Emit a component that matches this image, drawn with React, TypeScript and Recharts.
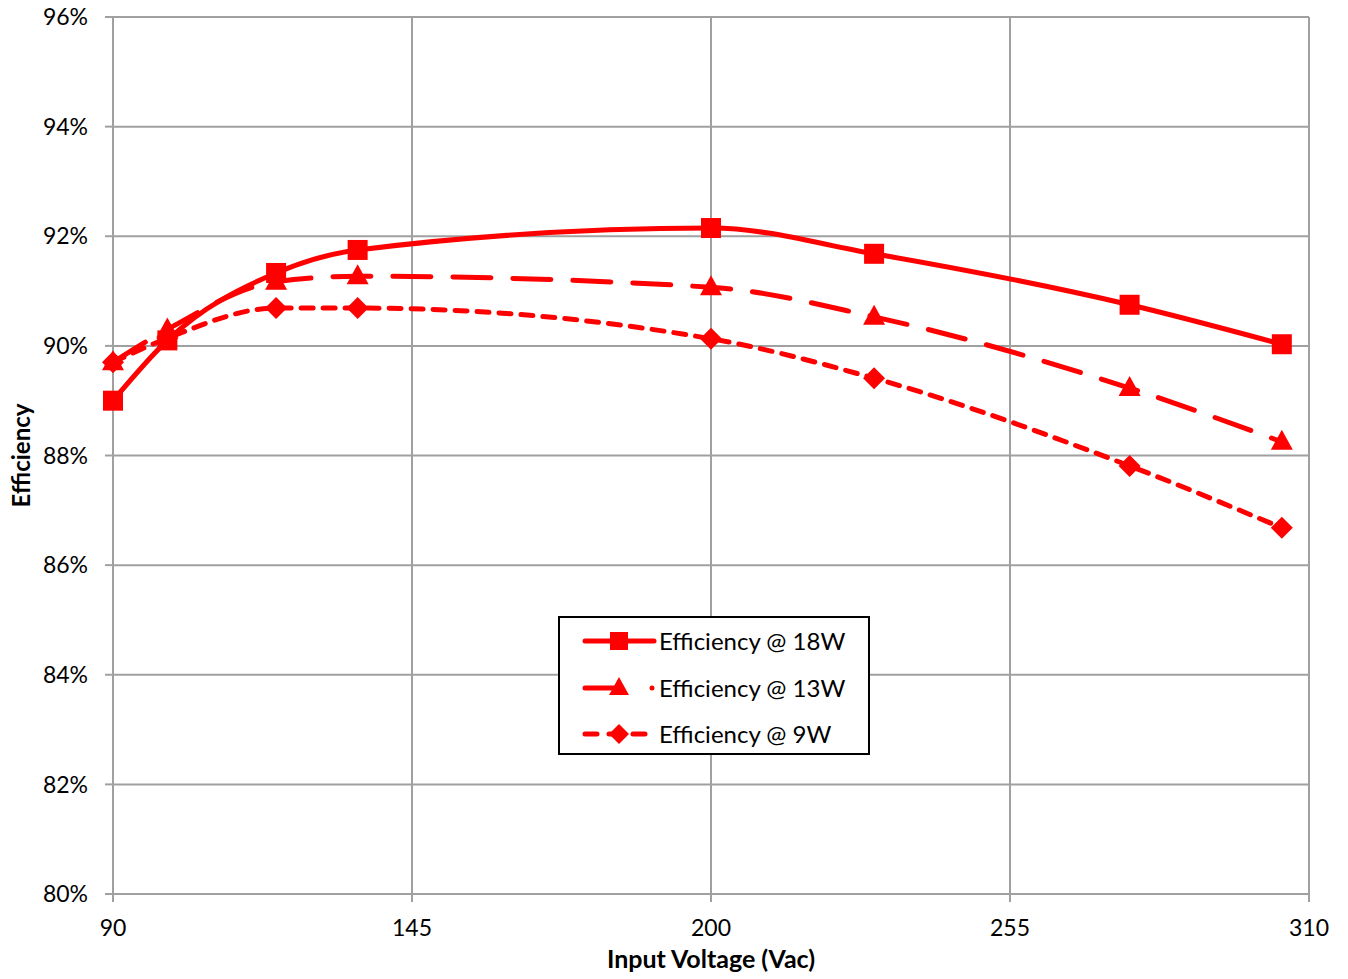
import React from "react";
import {
  CartesianGrid,
  Line,
  LineChart,
  XAxis,
  YAxis
} from "recharts";

const voltages = [90, 100, 120, 135, 200, 230, 277, 305];
const eff18W = [89.0, 90.1, 91.33, 91.75, 92.15, 91.68, 90.75, 90.03];
const eff13W = [89.7, 90.3, 91.17, 91.27, 91.07, 90.53, 89.23, 88.25];
const eff9W = [89.7, 90.14, 90.69, 90.69, 90.13, 89.41, 87.81, 86.68];

const xTicks = [90, 145, 200, 255, 310];
const yTicks = [80, 82, 84, 86, 88, 90, 92, 94, 96];

const data = voltages.map((v, i) => ({
  v,
  e18: eff18W[i],
  e13: eff13W[i],
  e9: eff9W[i]
}));

const RED = "#ff0000";
const GRID = "#a0a0a0";
const FONT = "Lato, 'Open Sans', sans-serif";

const Square = (props: any) => {
  const { cx, cy, index } = props;
  return <rect key={`s${index}`} x={cx - 10} y={cy - 10} width={20} height={20} fill={RED} />;
};

const Triangle = (props: any) => {
  const { cx, cy, index } = props;
  return (
    <polygon
      key={`t${index}`}
      points={`${cx},${cy - 12} ${cx + 11},${cy + 8} ${cx - 11},${cy + 8}`}
      fill={RED}
    />
  );
};

const Diamond = (props: any) => {
  const { cx, cy, index } = props;
  return (
    <polygon
      key={`d${index}`}
      points={`${cx},${cy - 11} ${cx + 11},${cy} ${cx},${cy + 11} ${cx - 11},${cy}`}
      fill={RED}
    />
  );
};

const legendRows = [
  { label: "Efficiency @ 18W", kind: "square" },
  { label: "Efficiency @ 13W", kind: "triangle" },
  { label: "Efficiency @ 9W", kind: "diamond" }
];

// legend is drawn as an overlay so it doesn't eat into the plot height
function LegendBox() {
  return (
    <div
      style={{
        position: "absolute",
        left: 558,
        top: 616,
        border: "2px solid #000",
        background: "#fff",
        width: 308,
        height: 135,
        boxSizing: "content-box",
        fontFamily: FONT,
        fontSize: 24
      }}
    >
      {legendRows.map(row => (
        <div key={row.label} style={{ display: "flex", alignItems: "center", height: 46.5 }}>
          <svg width={98} height={30}>
            {row.kind === "square" && (
              <>
                <line x1={25} y1={15} x2={94} y2={15} stroke={RED} strokeWidth={5} strokeLinecap="round" />
                <rect x={50} y={6} width={18} height={18} fill={RED} />
              </>
            )}
            {row.kind === "triangle" && (
              <>
                <line x1={25} y1={15} x2={60} y2={15} stroke={RED} strokeWidth={5} strokeLinecap="round" />
                <polygon points="59,4 69,22 49,22" fill={RED} />
                <circle cx={92} cy={15} r={2.5} fill={RED} />
              </>
            )}
            {row.kind === "diamond" && (
              <>
                <line
                  x1={25}
                  y1={15}
                  x2={94}
                  y2={15}
                  stroke={RED}
                  strokeWidth={5}
                  strokeLinecap="round"
                  strokeDasharray="12 12"
                />
                <polygon points="59,5 69,15 59,25 49,15" fill={RED} />
              </>
            )}
          </svg>
          <span style={{ marginLeft: 1, lineHeight: 1 }}>{row.label}</span>
        </div>
      ))}
    </div>
  );
}

const yLabel = (props: any) => {
  const { viewBox } = props;
  const cx = 20;
  const cy = viewBox.y + viewBox.height / 2;
  return (
    <text
      x={cx}
      y={cy}
      transform={`rotate(-90, ${cx}, ${cy})`}
      textAnchor="middle"
      dominantBaseline="central"
      fontFamily={FONT}
      fontWeight="bold"
      fontSize={24}
      fill="#000"
    >
      Efficiency
    </text>
  );
};

const xLabel = (props: any) => {
  const { viewBox } = props;
  return (
    <text
      x={viewBox.x + viewBox.width / 2}
      y={viewBox.y + 74}
      textAnchor="middle"
      fontFamily={FONT}
      fontWeight="bold"
      fontSize={25}
      fill="#000"
    >
      Input Voltage (Vac)
    </text>
  );
};

export default function App() {
  return (
    <div style={{ position: "absolute", left: 0, top: 0, width: 1348, height: 979, background: "#fff" }}>
      <LineChart
        width={1348}
        height={979}
        data={data}
        margin={{ top: 17, right: 39, bottom: 55, left: 0 }}
      >
        <CartesianGrid stroke={GRID} strokeWidth={2} horizontalValues={yTicks} verticalValues={xTicks} />
        <XAxis
          dataKey="v"
          type="number"
          domain={[90, 310]}
          ticks={xTicks}
          interval={0}
          height={30}
          stroke={GRID}
          strokeWidth={2}
          tickSize={8}
          tickMargin={18}
          tick={{ fill: "#000", fontSize: 23, fontFamily: FONT }}
          label={xLabel}
        />
        <YAxis
          type="number"
          domain={[80, 96]}
          ticks={yTicks}
          interval={0}
          width={113}
          stroke={GRID}
          strokeWidth={2}
          tickSize={8}
          tickMargin={17}
          tickFormatter={(v: number) => `${v}%`}
          tick={{ fill: "#000", fontSize: 23, fontFamily: FONT }}
          label={yLabel}
        />
        <Line
          type="monotone"
          dataKey="e9"
          stroke={RED}
          strokeWidth={5}
          strokeLinecap="round"
          strokeDasharray="12 10"
          dot={Diamond}
          activeDot={false}
          isAnimationActive={false}
        />
        <Line
          type="monotone"
          dataKey="e13"
          stroke={RED}
          strokeWidth={5}
          strokeLinecap="round"
          strokeDasharray="38 22"
          dot={Triangle}
          activeDot={false}
          isAnimationActive={false}
        />
        <Line
          type="monotone"
          dataKey="e18"
          stroke={RED}
          strokeWidth={5}
          strokeLinecap="round"
          dot={Square}
          activeDot={false}
          isAnimationActive={false}
        />
      </LineChart>
      <LegendBox />
    </div>
  );
}
